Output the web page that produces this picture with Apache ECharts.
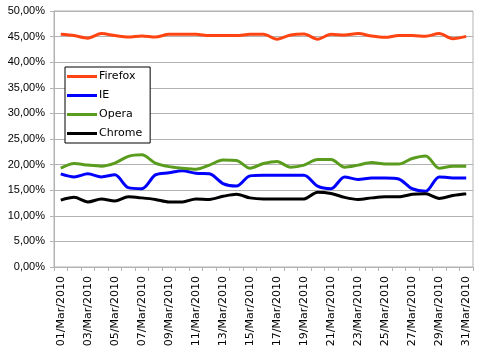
<!DOCTYPE html>
<html><head><meta charset="utf-8">
<script src="https://cdn.jsdelivr.net/npm/echarts@6/dist/echarts.min.js"></script>
<style>html,body{margin:0;padding:0;background:#fff}#c{width:484px;height:357px}</style>
</head><body><div id="c"></div>
<script>
const categories = ["01/Mar/2010","02/Mar/2010","03/Mar/2010","04/Mar/2010","05/Mar/2010","06/Mar/2010","07/Mar/2010","08/Mar/2010","09/Mar/2010","10/Mar/2010","11/Mar/2010","12/Mar/2010","13/Mar/2010","14/Mar/2010","15/Mar/2010","16/Mar/2010","17/Mar/2010","18/Mar/2010","19/Mar/2010","20/Mar/2010","21/Mar/2010","22/Mar/2010","23/Mar/2010","24/Mar/2010","25/Mar/2010","26/Mar/2010","27/Mar/2010","28/Mar/2010","29/Mar/2010","30/Mar/2010","31/Mar/2010"];
const firefox = [45.45,45.2,44.7,45.6,45.2,44.9,45.1,44.9,45.45,45.45,45.45,45.2,45.2,45.2,45.45,45.45,44.5,45.3,45.5,44.5,45.45,45.3,45.6,45.1,44.85,45.2,45.2,45.05,45.6,44.6,45.05];
const ie = [18.2,17.6,18.2,17.6,18.0,15.5,15.3,18.0,18.4,18.8,18.3,18.2,16.3,15.8,17.8,17.9,17.9,17.9,17.9,15.8,15.3,17.6,17.1,17.4,17.4,17.2,15.3,14.8,17.6,17.4,17.4];
const opera = [19.3,20.2,19.9,19.7,20.3,21.6,21.9,20.3,19.6,19.3,19.1,19.9,20.9,20.8,19.3,20.2,20.6,19.5,19.9,21.0,21.0,19.5,19.9,20.4,20.1,20.1,21.2,21.7,19.3,19.7,19.7];
const chrome = [13.05,13.6,12.7,13.3,12.9,13.7,13.5,13.2,12.7,12.7,13.3,13.2,13.8,14.2,13.5,13.3,13.3,13.3,13.3,14.6,14.35,13.6,13.2,13.5,13.7,13.7,14.2,14.3,13.4,13.95,14.3];
const yTicks = {min:0, max:50, interval:5};

const font = 'DejaVu Sans';
const mk = (name, data, color) => ({
  name, type:'line', data, smooth:0.3, symbol:'none',
  lineStyle:{color, width:3}, itemStyle:{color}
});
const chart = echarts.init(document.getElementById('c'), null, {renderer:'canvas'});
chart.setOption({
  animation:false,
  grid:{left:54, right:11, top:11, bottom:90, show:true, borderColor:'#b3b3b3', borderWidth:1,
        containLabel:false, outerBoundsMode:'none'},
  legend:{
    orient:'vertical', left:65, top:67,
    padding:[3,8,3,2],
    borderColor:'#000', borderWidth:1, backgroundColor:'#fff',
    itemWidth:30, itemHeight:3, itemGap:6, icon:'rect',
    textStyle:{fontFamily:font, fontSize:11, color:'#000', padding:[0,0,0,-3], lineHeight:13},
    data:['Firefox','IE','Opera','Chrome']
  },
  xAxis:{
    type:'category', data:categories, boundaryGap:true,
    axisLine:{lineStyle:{color:'#b3b3b3'}},
    axisTick:{show:true, alignWithLabel:false, interval:0, length:4, lineStyle:{color:'#b3b3b3'}},
    axisLabel:{interval:1, rotate:90, fontFamily:font, fontSize:11, color:'#000', margin:9},
    splitLine:{show:false}
  },
  yAxis:{
    type:'value', min:yTicks.min, max:yTicks.max, interval:yTicks.interval,
    axisLine:{show:true, lineStyle:{color:'#b3b3b3'}},
    axisTick:{show:true, length:4, lineStyle:{color:'#b3b3b3'}},
    axisLabel:{fontFamily:'Liberation Sans', fontSize:11, color:'#000', margin:9,
      formatter:v=>v.toFixed(2).replace('.',',')+'%'},
    splitLine:{lineStyle:{color:'#b3b3b3'}}
  },
  series:[mk('Firefox',firefox,'#FF4411'), mk('IE',ie,'#0000FF'), mk('Opera',opera,'#5A9C1E'), mk('Chrome',chrome,'#000000')]
});
</script></body></html>
